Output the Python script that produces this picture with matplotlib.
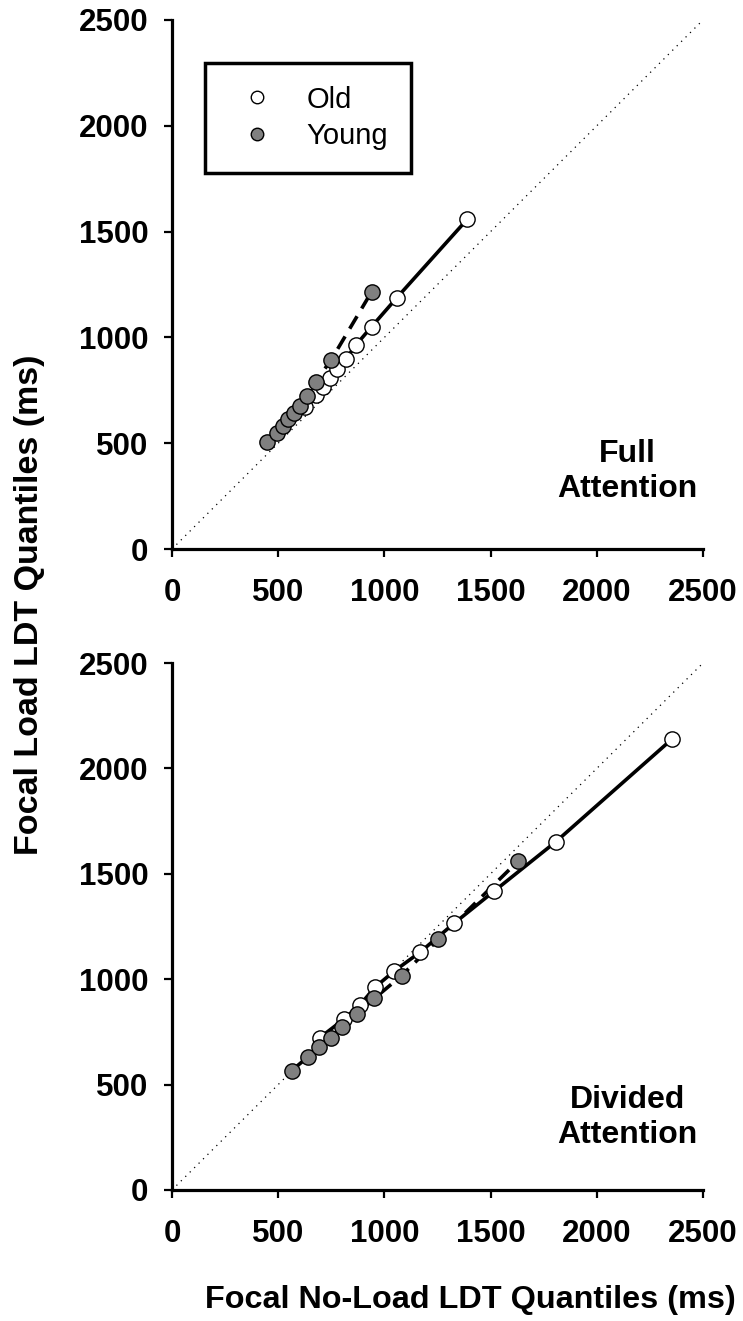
import numpy as np
import matplotlib
matplotlib.use("Agg")
import matplotlib.pyplot as plt
from matplotlib.lines import Line2D

plt.rcParams['font.family'] = ['Liberation Sans', 'DejaVu Sans']

# quantile RTs (ms), no-load (x) vs load (y)
full_old_x = [626, 678, 712, 744, 778, 819, 866, 940, 1059, 1390]
full_old_y = [670, 728, 767, 807, 849, 898, 964, 1051, 1188, 1558]
full_young_x = [449, 493, 521, 548, 574, 603, 634, 676, 749, 940]
full_young_y = [504, 550, 583, 613, 644, 677, 723, 791, 893, 1216]

div_old_x = [697, 810, 885, 956, 1047, 1168, 1328, 1517, 1807, 2355]
div_old_y = [723, 811, 878, 962, 1039, 1128, 1265, 1418, 1652, 2140]
div_young_x = [563, 642, 694, 747, 802, 870, 953, 1081, 1254, 1631]
div_young_y = [566, 633, 677, 723, 775, 835, 909, 1017, 1189, 1562]

ticks = [0, 500, 1000, 1500, 2000, 2500]
gray = '#808080'

fig = plt.figure(figsize=(7.43, 13.21), dpi=100, facecolor='white')
ax_top = fig.add_axes([0.2315, 0.5844, 0.7147, 0.4005])
ax_bot = fig.add_axes([0.2315, 0.0992, 0.7147, 0.3989])


def draw_panel(ax, ox, oy, yx, yy, label, label_y):
    ax.plot([0, 2500], [0, 2500], color='black', linestyle=(0, (1, 4)),
            linewidth=0.9, zorder=1)
    ax.plot(ox, oy, color='black', linewidth=2.6, zorder=2)
    ax.plot(yx, yy, color='black', linewidth=2.6, linestyle=(0, (4, 2.5)),
            zorder=2)
    ax.plot(ox, oy, linestyle='none', marker='o', markersize=11,
            markerfacecolor='white', markeredgecolor='black',
            markeredgewidth=1.0, zorder=3)
    ax.plot(yx, yy, linestyle='none', marker='o', markersize=11,
            markerfacecolor=gray, markeredgecolor='black',
            markeredgewidth=1.0, zorder=4)
    ax.set_xlim(0, 2500)
    ax.set_ylim(0, 2500)
    ax.set_xticks(ticks)
    ax.set_yticks(ticks)
    ax.spines['top'].set_visible(False)
    ax.spines['right'].set_visible(False)
    for s in ('left', 'bottom'):
        ax.spines[s].set_linewidth(2.3)
    ax.tick_params(axis='both', direction='out', length=6, width=1.6,
                   labelsize=22.5)
    ax.tick_params(axis='x', pad=15)
    ax.tick_params(axis='y', pad=11)
    for t in ax.get_xticklabels() + ax.get_yticklabels():
        t.set_fontweight('bold')
    ax.text(0.858, label_y, label, transform=ax.transAxes, ha='center',
            va='center', fontsize=23, fontweight='bold', linespacing=1.2)


draw_panel(ax_top, full_old_x, full_old_y, full_young_x, full_young_y,
           'Full\nAttention', 0.146)
draw_panel(ax_bot, div_old_x, div_old_y, div_young_x, div_young_y,
           'Divided\nAttention', 0.138)

handles = [
    Line2D([], [], linestyle='none', marker='o', markersize=9,
           markerfacecolor='white', markeredgecolor='black',
           markeredgewidth=1.0, label='Old'),
    Line2D([], [], linestyle='none', marker='o', markersize=9,
           markerfacecolor=gray, markeredgecolor='black',
           markeredgewidth=1.0, label='Young'),
]
leg = ax_top.legend(handles=handles, loc='upper left',
                    bbox_to_anchor=(0.062, 0.919), borderaxespad=0,
                    fontsize=21, frameon=True, fancybox=False, framealpha=1,
                    borderpad=0.78, handlelength=2.0, handletextpad=0.7,
                    labelspacing=0.3)
leg.get_frame().set_edgecolor('black')
leg.get_frame().set_linewidth(2.5)

fig.text(0.04, 0.542, 'Focal Load LDT Quantiles (ms)', rotation=90,
         ha='center', va='center', fontsize=24.5, fontweight='bold')
fig.text(0.633, 0.016, 'Focal No-Load LDT Quantiles (ms)', ha='center',
         va='center', fontsize=23.3, fontweight='bold')

fig.savefig('out.png', dpi=100, facecolor='white')
